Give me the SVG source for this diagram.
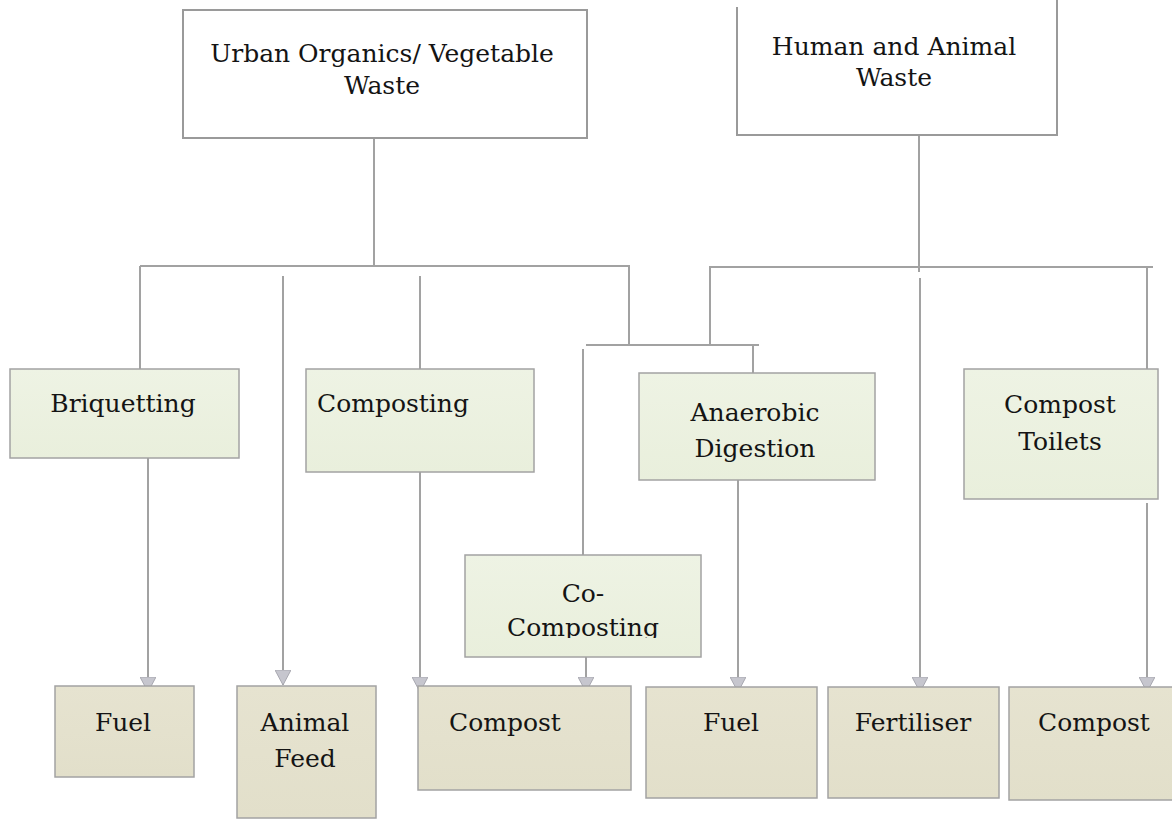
<svg xmlns="http://www.w3.org/2000/svg" width="1172" height="819" viewBox="0 0 1172 819">
  <style>
    .src { fill: #ffffff; stroke: #9a9a9a; stroke-width: 2; }
    .proc { fill: url(#greenFill); stroke: #a3a3a3; stroke-width: 1.5; }
    .prod { fill: url(#tanFill); stroke: #a3a3a3; stroke-width: 1.5; }
    .lbl { font-family: "DejaVu Serif", "Liberation Serif", serif; font-size: 25px; fill: #141414; text-anchor: middle; }
    .wire { fill: none; stroke: #a2a2a2; stroke-width: 2; }
  </style>
  <defs>
    <linearGradient id="greenFill" x1="0" y1="0" x2="0" y2="1">
      <stop offset="0" stop-color="#eef3e4"/>
      <stop offset="1" stop-color="#e9efdc"/>
    </linearGradient>
    <linearGradient id="tanFill" x1="0" y1="0" x2="0" y2="1">
      <stop offset="0" stop-color="#e6e3d0"/>
      <stop offset="1" stop-color="#e2dfca"/>
    </linearGradient>
    <!-- downward arrowhead: drawn along +x, rotated by the path direction -->
    <marker id="arrow" viewBox="0 0 15 16" refX="15" refY="8" markerWidth="15" markerHeight="16" markerUnits="userSpaceOnUse" orient="auto">
      <path d="M0,0 L15,8 L0,16 Z" fill="#c6c6ce" stroke="#a8a8b0" stroke-width="1"/>
    </marker>
    <clipPath id="coClip">
      <rect x="465" y="555" width="236" height="83"/>
    </clipPath>
  </defs>

  <!-- connectors -->
  <g id="connectors">
    <!-- left tree -->
    <path class="wire" d="M374,138 V266"/>
    <path class="wire" d="M140,266 H629 V345"/>
    <path class="wire" d="M140,266 V369"/>
    <path class="wire" d="M420,276 V369"/>
    <!-- right tree -->
    <path class="wire" d="M919,135 V272"/>
    <path class="wire" d="M710,345 V267 H1153"/>
    <path class="wire" d="M1147,267 V369"/>
    <!-- shared branch -->
    <path class="wire" d="M586,345 H759"/>
    <path class="wire" d="M583,349 V555"/>
    <path class="wire" d="M753,345 V373"/>
    <!-- arrows into products -->
    <path class="wire" d="M148,458 V692" marker-end="url(#arrow)"/>
    <path class="wire" d="M283,276 V685" marker-end="url(#arrow)"/>
    <path class="wire" d="M420,472 V692" marker-end="url(#arrow)"/>
    <path class="wire" d="M586,657 V692" marker-end="url(#arrow)"/>
    <path class="wire" d="M738,480 V692" marker-end="url(#arrow)"/>
    <path class="wire" d="M920,278 V692" marker-end="url(#arrow)"/>
    <path class="wire" d="M1147,503 V692" marker-end="url(#arrow)"/>
  </g>

  <!-- sources -->
  <g id="urban-organics">
    <rect class="src" x="183" y="10" width="404" height="128"/>
    <text class="lbl" x="382" y="62">Urban Organics/ Vegetable</text>
    <text class="lbl" x="382" y="94">Waste</text>
  </g>
  <g id="human-animal">
    <path class="src" d="M737,7 V135 H1057 V0"/>
    <text class="lbl" x="894" y="55">Human and Animal</text>
    <text class="lbl" x="894" y="86">Waste</text>
  </g>

  <!-- processes -->
  <g id="briquetting">
    <rect class="proc" x="10" y="369" width="229" height="89"/>
    <text class="lbl" x="123" y="412">Briquetting</text>
  </g>
  <g id="composting">
    <rect class="proc" x="306" y="369" width="228" height="103"/>
    <text class="lbl" x="393" y="412">Composting</text>
  </g>
  <g id="anaerobic-digestion">
    <rect class="proc" x="639" y="373" width="236" height="107"/>
    <text class="lbl" x="755" y="421">Anaerobic</text>
    <text class="lbl" x="755" y="457">Digestion</text>
  </g>
  <g id="compost-toilets">
    <rect class="proc" x="964" y="369" width="194" height="130"/>
    <text class="lbl" x="1060" y="413">Compost</text>
    <text class="lbl" x="1060" y="450">Toilets</text>
  </g>
  <g id="co-composting">
    <rect class="proc" x="465" y="555" width="236" height="102"/>
    <g clip-path="url(#coClip)">
      <text class="lbl" x="583" y="602">Co-</text>
      <text class="lbl" x="583" y="636">Composting</text>
    </g>
  </g>

  <!-- products -->
  <g id="fuel-1">
    <rect class="prod" x="55" y="686" width="139" height="91"/>
    <text class="lbl" x="123" y="731">Fuel</text>
  </g>
  <g id="animal-feed">
    <rect class="prod" x="237" y="686" width="139" height="132"/>
    <text class="lbl" x="305" y="731">Animal</text>
    <text class="lbl" x="305" y="767">Feed</text>
  </g>
  <g id="compost-1">
    <rect class="prod" x="418" y="686" width="213" height="104"/>
    <text class="lbl" x="505" y="731">Compost</text>
  </g>
  <g id="fuel-2">
    <rect class="prod" x="646" y="687" width="171" height="111"/>
    <text class="lbl" x="731" y="731">Fuel</text>
  </g>
  <g id="fertiliser">
    <rect class="prod" x="828" y="687" width="171" height="111"/>
    <text class="lbl" x="913" y="731">Fertiliser</text>
  </g>
  <g id="compost-2">
    <rect class="prod" x="1009" y="687" width="175" height="113"/>
    <text class="lbl" x="1094" y="731">Compost</text>
  </g>
</svg>
